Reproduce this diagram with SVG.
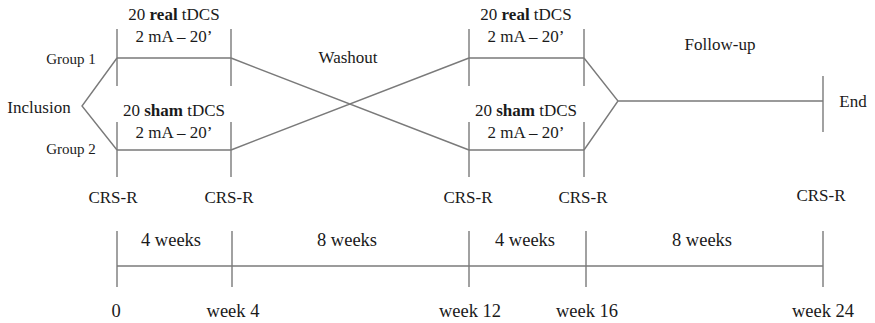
<svg xmlns="http://www.w3.org/2000/svg" width="875" height="323" viewBox="0 0 875 323">
  <style>
    .ln { stroke: #7a7a7a; stroke-width: 1.4; fill: none; }
    .t { font-family: "Liberation Serif", "Times New Roman", serif; font-size: 17px; fill: #1a1a1a; text-anchor: middle; }
    .g { font-size: 15px; }
    .b { font-size: 18.5px; }
    .bold { font-weight: bold; }
  </style>

  <!-- study arms and timeline lines -->
  <g id="connectors">
    <!-- inclusion split -->
    <path class="ln" d="M117,58 L82,106 L117,150"/>
    <!-- first treatment period -->
    <path class="ln" d="M117,29 V86 M231,29 V86 M117,122 V177 M231,122 V177"/>
    <path class="ln" d="M117,58 H231 M117,150 H231"/>
    <!-- washout crossover -->
    <path class="ln" d="M231,58 L469,150 M231,150 L469,58"/>
    <!-- second treatment period -->
    <path class="ln" d="M469,29 V86 M584,29 V86 M469,122 V177 M584,122 V177"/>
    <path class="ln" d="M469,58 H584 M469,150 H584"/>
    <!-- merge into follow-up -->
    <path class="ln" d="M584,58 L618,101 L584,150 M618,101 H823"/>
    <path class="ln" d="M823,76 V132"/>
    <!-- week axis -->
    <path class="ln" d="M117,266 H823"/>
    <path class="ln" d="M117,231 V287 M232,231 V287 M469,231 V287 M586,231 V287 M823,231 V287"/>
  </g>

  <g id="inclusion"><text class="t" x="39" y="113">Inclusion</text></g>
  <g id="group1"><text class="t g" x="71" y="64">Group 1</text></g>
  <g id="group2"><text class="t g" x="71" y="154">Group 2</text></g>

  <g id="real1">
    <text class="t" x="174" y="20">20 <tspan class="bold">real</tspan> tDCS</text>
    <text class="t" x="174" y="42">2 mA – 20’</text>
  </g>
  <g id="sham1">
    <text class="t" x="174" y="116">20 <tspan class="bold">sham</tspan> tDCS</text>
    <text class="t" x="174" y="138">2 mA – 20’</text>
  </g>
  <g id="washout"><text class="t" x="348" y="63">Washout</text></g>
  <g id="real2">
    <text class="t" x="526" y="20">20 <tspan class="bold">real</tspan> tDCS</text>
    <text class="t" x="526" y="42">2 mA – 20’</text>
  </g>
  <g id="sham2">
    <text class="t" x="526" y="116">20 <tspan class="bold">sham</tspan> tDCS</text>
    <text class="t" x="526" y="138">2 mA – 20’</text>
  </g>
  <g id="followup"><text class="t" x="720" y="50">Follow-up</text></g>
  <g id="end"><text class="t" x="853" y="107">End</text></g>

  <g id="crsr">
    <text class="t" x="113" y="203">CRS-R</text>
    <text class="t" x="229" y="203">CRS-R</text>
    <text class="t" x="468" y="203">CRS-R</text>
    <text class="t" x="583" y="203">CRS-R</text>
    <text class="t" x="821" y="201">CRS-R</text>
  </g>

  <g id="durations">
    <text class="t b" x="171" y="246">4 weeks</text>
    <text class="t b" x="347" y="246">8 weeks</text>
    <text class="t b" x="525" y="246">4 weeks</text>
    <text class="t b" x="702" y="246">8 weeks</text>
  </g>

  <g id="weeks">
    <text class="t b" x="116" y="317">0</text>
    <text class="t b" x="233" y="317">week 4</text>
    <text class="t b" x="470" y="317">week 12</text>
    <text class="t b" x="587" y="317">week 16</text>
    <text class="t b" x="823" y="317">week 24</text>
  </g>
</svg>
